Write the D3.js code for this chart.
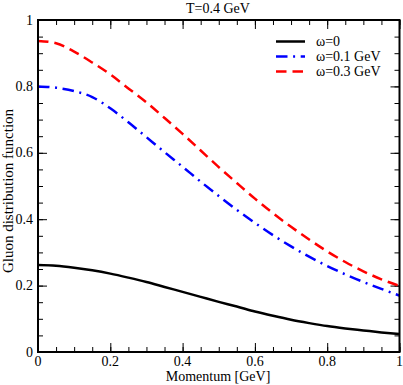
<!DOCTYPE html>
<html>
<head>
<meta charset="utf-8">
<script src="https://cdn.jsdelivr.net/npm/d3@7"></script>
<style>
body{margin:0;background:#fff;}
svg{display:block;}
text{font-family:"Liberation Serif","Times New Roman",serif;fill:#000;}
</style>
</head>
<body>
<svg id="c" width="403" height="385"></svg>
<script>
const momentum = [0,0.05,0.1,0.15,0.2,0.25,0.3,0.35,0.4,0.45,0.5,0.55,0.6,0.65,0.7,0.75,0.8,0.85,0.9,0.95,1.0];
const omega0   = [0.262,0.260,0.254,0.246,0.236,0.224,0.211,0.196,0.181,0.166,0.151,0.137,0.122,0.109,0.097,0.087,0.078,0.071,0.065,0.059,0.054];
const omega01  = [0.800,0.796,0.786,0.768,0.734,0.692,0.647,0.602,0.558,0.513,0.470,0.428,0.389,0.352,0.318,0.287,0.259,0.234,0.211,0.190,0.170];
const omega03  = [0.937,0.930,0.905,0.872,0.836,0.794,0.752,0.705,0.657,0.607,0.557,0.509,0.462,0.418,0.377,0.339,0.303,0.271,0.243,0.219,0.199];
const seriesNames = ["\u03c9=0","\u03c9=0.1 GeV","\u03c9=0.3 GeV"];
const xTicks = [0,0.2,0.4,0.6,0.8,1];
const yTicks = [0,0.2,0.4,0.6,0.8,1];
const xTickLabels = ["0","0.2","0.4","0.6","0.8","1"];
const yTickLabels = ["0","0.2","0.4","0.6","0.8","1"];

const L=38, R=399.5, T=20, B=352;
const svg = d3.select("#c");
const x = d3.scaleLinear().domain([0,1]).range([L,R]);
const y = d3.scaleLinear().domain([0,1]).range([B,T]);

const minor = d3.range(0,1.0001,0.05);

function ticks(g, axisFn, scale, vals, len){
  g.call(axisFn(scale).tickValues(vals).tickSize(len).tickFormat(""));
  g.select(".domain").remove();
  g.selectAll("line").attr("stroke","#000").attr("stroke-width",1);
}
const tickDefs = [
  [d3.axisTop, x, B], [d3.axisBottom, x, T],
  [d3.axisRight, y, L], [d3.axisLeft, y, R]
];
tickDefs.forEach(([fn,sc,pos])=>{
  const horiz = (fn===d3.axisTop||fn===d3.axisBottom);
  [[minor,5],[xTicks,9]].forEach(([vals,len])=>{
    const g = svg.append("g").attr("transform", horiz?`translate(0,${pos})`:`translate(${pos},0)`);
    ticks(g, fn, sc, vals, len);
  });
});

svg.append("g").selectAll("text").data(xTicks).join("text")
  .attr("x",d=>x(d)).attr("y",366).attr("text-anchor","middle")
  .attr("font-size",14).text((d,i)=>xTickLabels[i]);
svg.append("g").selectAll("text").data(yTicks).join("text")
  .attr("x",33).attr("y",d=>y(d)).attr("dy","0.33em").attr("text-anchor","end")
  .attr("font-size",14).text((d,i)=>yTickLabels[i]);

const line = d3.line().x((d,i)=>x(momentum[i])).y(d=>y(d)).curve(d3.curveMonotoneX);
const styles = [
  {data:omega0, color:"#000", dash:null, w:2.5},
  {data:omega01, color:"#0000ff", dash:"11.5,5.6,2,5.6", w:2.5},
  {data:omega03, color:"#ff0000", dash:"10.5,6", w:2.5}
];
svg.append("clipPath").attr("id","pc").append("rect")
  .attr("x",L).attr("y",T).attr("width",R-L).attr("height",B-T);
styles.forEach(s=>{
  svg.append("path").attr("d",line(s.data)).attr("fill","none")
    .attr("stroke",s.color).attr("stroke-width",s.w)
    .attr("stroke-dasharray",s.dash).attr("clip-path","url(#pc)");
});

svg.append("rect").attr("x",L).attr("y",T).attr("width",R-L).attr("height",B-T)
  .attr("fill","none").attr("stroke","#000").attr("stroke-width",2);

const legY = [41.5,56.5,71.5];
styles.forEach((s,i)=>{
  svg.append("line").attr("x1",276).attr("x2",305).attr("y1",legY[i]).attr("y2",legY[i])
    .attr("stroke",s.color).attr("stroke-width",s.w).attr("stroke-dasharray",s.dash);
  svg.append("text").attr("x",316).attr("y",legY[i]).attr("dy","0.33em")
    .attr("font-size",14).text(seriesNames[i]);
});

svg.append("text").attr("x",218).attr("y",13).attr("text-anchor","middle")
  .attr("font-size",14).text("T=0.4 GeV");
svg.append("text").attr("x",218).attr("y",381).attr("text-anchor","middle")
  .attr("font-size",14).text("Momentum [GeV]");
svg.append("text").attr("transform","translate(13,191) rotate(-90)")
  .attr("text-anchor","middle").attr("font-size",15).text("Gluon distribution function");
</script>
</body>
</html>
